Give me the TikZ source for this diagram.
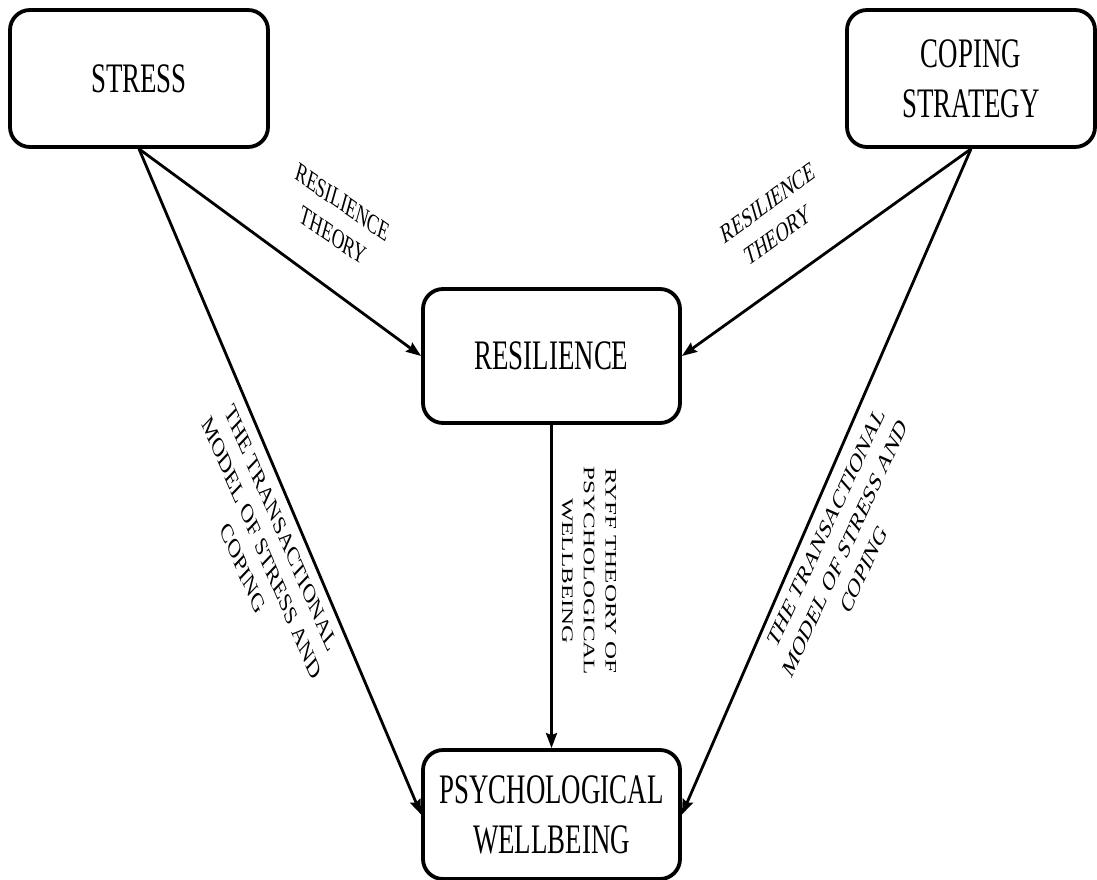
\documentclass[tikz,border=0pt]{standalone}
\usepackage{fontspec}
\setmainfont{Liberation Serif}
\newfontfamily\narrowfont[FakeStretch=0.64]{Liberation Serif}
\usetikzlibrary{arrows.meta}
\tikzset{
  box/.style={draw, line width=3.8pt, rounded corners=20pt, align=center, inner sep=0pt,
    font=\narrowfont\fontsize{42}{50}\selectfont},
  conn/.style={line width=2.8pt, -{Stealth[length=15pt,width=11pt,inset=2pt]}},
  lbl/.style={align=center, inner sep=0pt, xscale=0.64, font=\fontsize{27.5}{36}\selectfont},
  lblv/.style={align=center, inner sep=0pt, xscale=0.64, font=\fontsize{25}{34}\selectfont}
}
\begin{document}
\begin{tikzpicture}[x=1pt,y=-1pt]
\useasboundingbox (0,0) rectangle (1097,880);
\node[box, minimum width=258pt, minimum height=137pt] (stress) at (139,78.5) {STRESS};
\node[box, minimum width=248pt, minimum height=137pt] (coping) at (971,78.5) {COPING\\STRATEGY};
\node[box, minimum width=257pt, minimum height=134pt] (res) at (551.5,356) {RESILIENCE};
\node[box, minimum width=257pt, minimum height=129pt] (psy) at (551.5,814.5) {PSYCHOLOGICAL\\WELLBEING};

\draw[conn] (stress.south) -- (res.west);
\draw[conn] (stress.south) -- (psy.west);
\draw[conn] (coping.south) -- (res.east);
\draw[conn] (coping.south) -- (psy.east);
\draw[conn] (res.south) -- (psy.north);

\node[lbl, rotate=-24] (l1) at (338,219) {RESILIENCE\\THEORY};
\node[lbl, rotate=25] (l2) at (773,219) {RESILIENCE\\THEORY};
\node[lbl, rotate=-56] (l3) at (262,548) {THE TRANSACTIONAL\\MODEL OF STRESS AND\\COPING};
\node[lbl, rotate=54] (l4) at (845,548) {THE TRANSACTIONAL\\MODEL OF STRESS AND\\COPING};
\node[lblv, rotate=-90] (l5) at (589,571) {RYFF THEORY OF\\PSYCHOLOGICAL\\WELLBEING};
\end{tikzpicture}
\end{document}
